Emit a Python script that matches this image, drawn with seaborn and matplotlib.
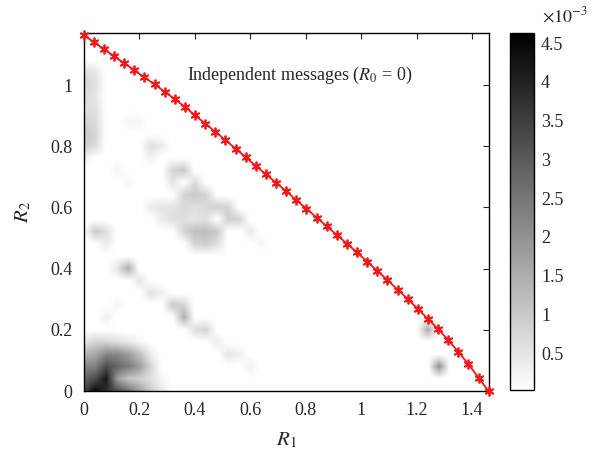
import numpy as np
import matplotlib
matplotlib.use('Agg')
import matplotlib.pyplot as plt
import seaborn as sns

# Boundary of the rate region (red curve with markers)
r1_bound = [0.0, 0.0365, 0.073, 0.1095, 0.146, 0.1825, 0.219, 0.2555, 0.292, 0.3285,
            0.365, 0.4015, 0.438, 0.4745, 0.511, 0.5475, 0.584, 0.6205, 0.657, 0.6935,
            0.73, 0.7665, 0.803, 0.8395, 0.876, 0.9125, 0.949, 0.9855, 1.022, 1.0585,
            1.095, 1.1315, 1.168, 1.2045, 1.241, 1.2775, 1.314, 1.3505, 1.387, 1.4235, 1.46]
r2_bound = [1.163, 1.140, 1.117, 1.094, 1.071, 1.048, 1.025, 1.002, 0.978, 0.954,
            0.928, 0.901, 0.874, 0.847, 0.820, 0.792, 0.764, 0.736, 0.708, 0.681,
            0.653, 0.624, 0.596, 0.567, 0.539, 0.510, 0.482, 0.453, 0.423, 0.393,
            0.363, 0.332, 0.301, 0.269, 0.236, 0.203, 0.167, 0.129, 0.088, 0.044, 0.0]

# Density cells on a 0.04 grid: (R1, R2, value in 1e-3)
corner_cells = [
    (0.00, 0.00, 3.2), (0.04, 0.00, 4.5), (0.08, 0.00, 3.8), (0.12, 0.00, 3.2), (0.16, 0.00, 2.6),
    (0.20, 0.00, 1.8), (0.24, 0.00, 1.0), (0.28, 0.00, 0.4),
    (0.00, 0.04, 2.8), (0.04, 0.04, 3.2), (0.08, 0.04, 4.2), (0.12, 0.04, 1.8), (0.16, 0.04, 1.1),
    (0.20, 0.04, 0.9), (0.24, 0.04, 0.6), (0.28, 0.04, 0.2),
    (0.00, 0.08, 2.2), (0.04, 0.08, 2.3), (0.08, 0.08, 3.2), (0.12, 0.08, 2.8), (0.16, 0.08, 2.4),
    (0.20, 0.08, 1.8), (0.24, 0.08, 0.8),
    (0.00, 0.12, 1.4), (0.04, 0.12, 1.6), (0.08, 0.12, 2.2), (0.12, 0.12, 2.2), (0.16, 0.12, 1.8),
    (0.20, 0.12, 1.2), (0.24, 0.12, 0.4),
    (0.00, 0.16, 0.5), (0.04, 0.16, 0.8), (0.08, 0.16, 0.8), (0.12, 0.16, 0.6), (0.16, 0.16, 0.4),
    (0.20, 0.16, 0.2),
]
streak_cells = [
    (0.12, 0.40, 0.5), (0.16, 0.40, 1.5), (0.20, 0.36, 0.5), (0.24, 0.32, 0.6), (0.28, 0.32, 0.3),
    (0.32, 0.28, 1.0), (0.36, 0.24, 1.5), (0.36, 0.28, 0.8), (0.40, 0.20, 0.6), (0.44, 0.20, 0.8),
    (0.48, 0.16, 0.4), (0.52, 0.12, 0.5), (0.56, 0.12, 0.3), (0.60, 0.08, 0.3),
    (0.08, 0.24, 0.3), (0.12, 0.28, 0.2),
    (0.04, 0.52, 1.0), (0.08, 0.52, 0.6), (0.08, 0.48, 0.4),
]
middle_cells = [
    (0.24, 0.80, 0.6), (0.28, 0.80, 0.4),
    (0.32, 0.72, 0.8), (0.36, 0.72, 1.0), (0.32, 0.68, 0.5), (0.40, 0.68, 0.7),
    (0.36, 0.64, 0.8), (0.40, 0.64, 1.0), (0.44, 0.64, 0.8),
    (0.24, 0.60, 0.4), (0.28, 0.60, 0.5), (0.32, 0.60, 0.5), (0.36, 0.60, 0.7), (0.40, 0.60, 0.6),
    (0.44, 0.60, 0.7), (0.48, 0.60, 0.9), (0.52, 0.60, 0.8),
    (0.28, 0.56, 0.4), (0.32, 0.56, 0.6), (0.36, 0.56, 0.6), (0.40, 0.56, 0.5), (0.44, 0.56, 0.6),
    (0.52, 0.56, 0.9), (0.56, 0.56, 0.8),
    (0.36, 0.52, 0.8), (0.40, 0.52, 1.2), (0.44, 0.52, 1.2), (0.48, 0.52, 1.0), (0.60, 0.52, 0.4),
    (0.40, 0.48, 0.8), (0.44, 0.48, 0.9), (0.48, 0.48, 0.6), (0.64, 0.48, 0.2),
]
left_cells = [
    (0.00, 1.04, 0.6), (0.04, 1.04, 0.5), (0.00, 1.00, 0.8), (0.04, 1.00, 0.6),
    (0.00, 0.96, 0.7), (0.04, 0.96, 0.5), (0.00, 0.92, 0.6), (0.04, 0.92, 0.6),
    (0.00, 0.88, 0.8), (0.04, 0.88, 0.7), (0.00, 0.84, 1.0), (0.04, 0.84, 0.8),
    (0.00, 0.80, 0.9), (0.04, 0.80, 0.7), (0.00, 0.76, 0.3),
    (0.12, 0.72, 0.2), (0.16, 0.68, 0.2), (0.16, 0.88, 0.2), (0.20, 0.88, 0.2), (0.24, 0.76, 0.3),
]
right_cells = [(1.24, 0.20, 1.5), (1.28, 0.08, 2.0)]

cbar_ticks = [0.5, 1, 1.5, 2, 2.5, 3, 3.5, 4, 4.5]
cbar_labels = ['0.5', '1', '1.5', '2', '2.5', '3', '3.5', '4', '4.5']
x_ticks = [0, 0.2, 0.4, 0.6, 0.8, 1, 1.2, 1.4]
y_ticks = [0, 0.2, 0.4, 0.6, 0.8, 1]

sns.set_style('white')
plt.rcParams['font.family'] = ['Liberation Serif', 'DejaVu Serif']
plt.rcParams['mathtext.fontset'] = 'stix'

# build the density grid from the cells
step = 0.04
nx, ny = 38, 31
grid = np.zeros((ny, nx))
for r1, r2, v in corner_cells + streak_cells + middle_cells + left_cells + right_cells:
    grid[int(round(r2 / step)), int(round(r1 / step))] = v

fig = plt.figure(figsize=(6.07, 4.58), dpi=100)
ax = fig.add_axes([0.138, 0.146, 0.667, 0.782])
cax = fig.add_axes([0.841, 0.148, 0.039, 0.78])

im = ax.imshow(grid, origin='lower', cmap='gray_r', vmin=0.02, vmax=4.63,
               extent=(-step / 2, nx * step - step / 2, -step / 2, ny * step - step / 2),
               interpolation='bilinear', aspect='auto')

sns.lineplot(x=r1_bound, y=r2_bound, ax=ax, color='#f01818', marker=(6, 2, 0), markersize=7,
             markeredgecolor='#f01818', markeredgewidth=1.3, linewidth=1.3,
             clip_on=False, sort=False, zorder=5)

ax.set_xlim(0, 1.46)
ax.set_ylim(0, 1.17)
ax.set_xticks(x_ticks)
ax.set_xticklabels(['0', '0.2', '0.4', '0.6', '0.8', '1', '1.2', '1.4'])
ax.set_yticks(y_ticks)
ax.set_yticklabels(['0', '0.2', '0.4', '0.6', '0.8', '1'])
ax.tick_params(direction='in', length=4, labelsize=13, top=True, right=True, pad=8)
for s in ax.spines.values():
    s.set_color('black')
    s.set_linewidth(1.0)
ax.set_xlabel('$R_1$', fontsize=15, labelpad=8)
ax.set_ylabel('$R_2$', fontsize=15, labelpad=12)
ax.text(0.374, 1.03, 'Independent messages ($R_0$ = 0)', fontsize=13, va='center', ha='left')

cb = fig.colorbar(im, cax=cax)
cb.set_ticks(cbar_ticks)
cb.set_ticklabels(cbar_labels)
cb.ax.tick_params(direction='in', length=3, labelsize=13, left=True, right=True, pad=5)
cb.outline.set_edgecolor('black')
cb.outline.set_linewidth(1.0)
fig.text(0.893, 0.965, r'$\times10^{-3}$', fontsize=13, va='center', ha='left')

fig.savefig('out.png', dpi=100)
